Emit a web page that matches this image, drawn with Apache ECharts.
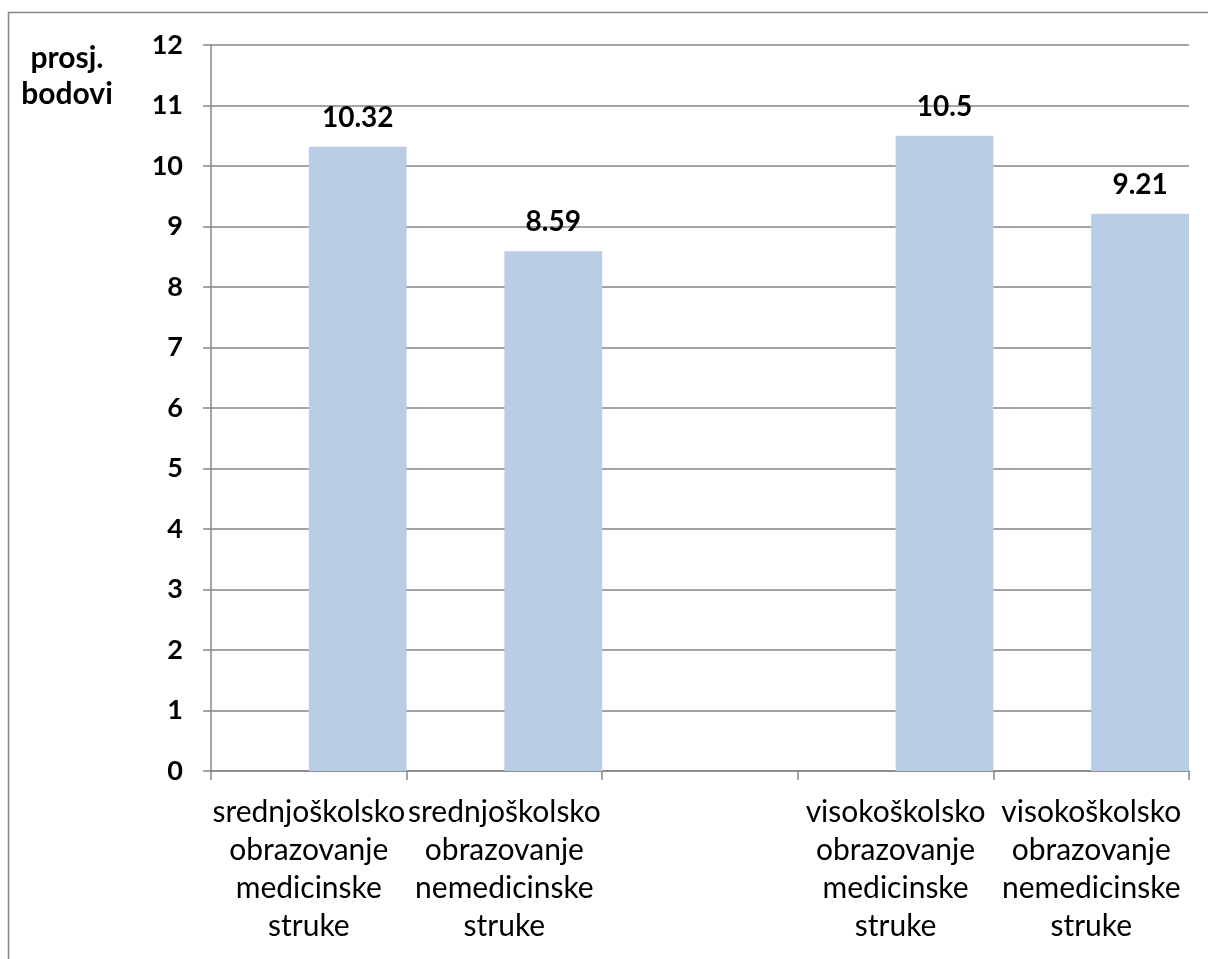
<!DOCTYPE html>
<html>
<head>
<meta charset="utf-8">
<script src="https://cdn.jsdelivr.net/npm/echarts@6/dist/echarts.min.js"></script>
<style>
  html, body { margin: 0; padding: 0; background: #fff; }
  #chart { width: 1208px; height: 959px; }
</style>
</head>
<body>
<div id="chart"></div>
<script>
// Average points by education level and profession (empty slot separates the two levels)
const categories = [
  'srednjoškolsko\nobrazovanje\nmedicinske\nstruke',
  'srednjoškolsko\nobrazovanje\nnemedicinske\nstruke',
  '',
  'visokoškolsko\nobrazovanje\nmedicinske\nstruke',
  'visokoškolsko\nobrazovanje\nnemedicinske\nstruke'
];
const spacerValues = [null, null, null, null, null];
const averagePoints = [10.32, 8.59, null, 10.5, 9.21];
const yTicks = { min: 0, max: 12, interval: 1 };
const axisTitle = 'prosj.\nbodovi';

const FONT = 'Lato, "Open Sans", sans-serif';
const GRAY = '#868686';

const chart = echarts.init(document.getElementById('chart'));
chart.setOption({
  backgroundColor: '#ffffff',
  animation: false,
  title: {
    text: axisTitle,
    left: 62,
    top: 35,
    textAlign: 'center',
    textStyle: { fontFamily: FONT, fontWeight: 'bold', fontSize: 30, lineHeight: 36, color: '#000', align: 'center' }
  },
  graphic: [{
    type: 'rect',
    shape: { x: 8.5, y: 12.5, width: 1220, height: 980 },
    style: { fill: 'none', stroke: GRAY, lineWidth: 1.5 },
    silent: true
  }],
  grid: { left: 211, right: 19, top: 45, bottom: 188, containLabel: false },
  xAxis: {
    type: 'category',
    data: categories,
    axisLine: { lineStyle: { color: GRAY, width: 1.5 } },
    axisTick: { show: true, length: 9, lineStyle: { color: GRAY, width: 1.5 } },
    axisLabel: {
      interval: 0,
      margin: 22,
      fontFamily: FONT,
      fontSize: 30,
      lineHeight: 38,
      color: '#000',
      align: 'center'
    }
  },
  yAxis: {
    type: 'value',
    min: yTicks.min,
    max: yTicks.max,
    interval: yTicks.interval,
    axisLine: { show: true, lineStyle: { color: GRAY, width: 1.5 } },
    axisTick: { show: true, length: 8, lineStyle: { color: GRAY, width: 1.5 } },
    splitLine: { lineStyle: { color: GRAY, width: 1.5 } },
    axisLabel: { fontFamily: FONT, fontWeight: 'bold', fontSize: 27, color: '#000', margin: 28 }
  },
  series: [
    {
      type: 'bar',
      data: spacerValues,
      barGap: '0%',
      barCategoryGap: '0%'
    },
    {
      type: 'bar',
      data: averagePoints,
      barGap: '0%',
      barCategoryGap: '0%',
      itemStyle: { color: '#B9CDE5' },
      label: {
        show: true,
        position: 'top',
        distance: 15,
        fontFamily: FONT,
        fontWeight: 'bold',
        fontSize: 28,
        color: '#000',
        formatter: p => p.value == null ? '' : String(p.value)
      }
    }
  ]
});
</script>
</body>
</html>
